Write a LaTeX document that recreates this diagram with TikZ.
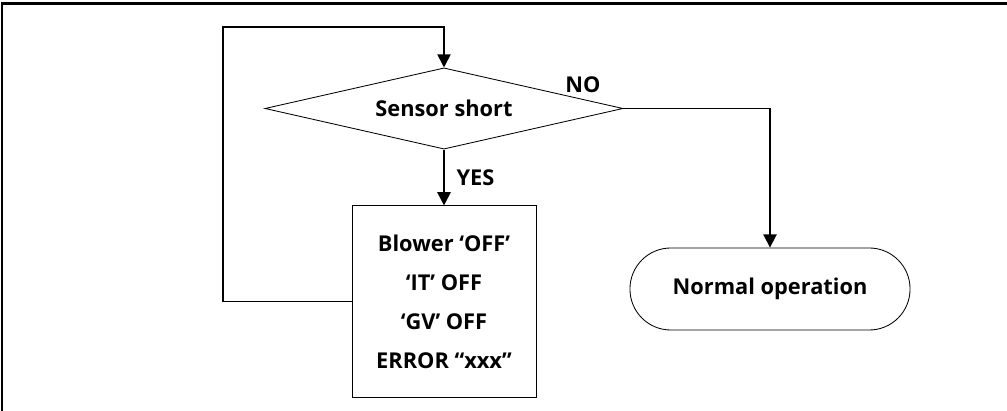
\documentclass[tikz,border=0pt]{standalone}
\usepackage{fontspec}
\setmainfont{Open Sans}
\usetikzlibrary{shapes.geometric,arrows.meta}
\begin{document}
\begin{tikzpicture}[x=.025cm,y=-.025cm,every node/.style={font=\bfseries\fontsize{15.5}{27.7}\selectfont},
  decision/.style={draw,diamond,aspect=4.4,line width=.6pt,minimum width=8.95cm,minimum height=2.03cm,inner sep=0pt},
  action/.style={draw,rectangle,line width=.6pt,align=center,minimum width=4.6cm,minimum height=4.78cm},
  terminal/.style={draw,rectangle,rounded corners=1.02cm,line width=.6pt,minimum width=7cm,minimum height=2.05cm},
  flow/.style={line width=1.3pt,-{Triangle[length=.33cm,width=.33cm]}}]
\useasboundingbox (0,0) rectangle (1007,411);
\draw[line width=1.8pt] (2,411) -- (2,3.5) -- (1007,3.5);
\node[decision] (sensor) at (444,108.5) {Sensor short};
\node[action] (stop) at (444,301.5) {Blower ‘OFF’\\‘IT’ OFF\\‘GV’ OFF\\ERROR “xxx”};
\node[terminal] (normal) at (770,289) {Normal operation};
\node (no) at (583,85) {NO};
\coordinate (loop) at (223,27);
\draw[flow] (sensor) -- (stop) node[midway,right=5pt] {YES};
\draw[flow] (sensor.east) -| (normal.north);
\draw[flow] (stop.west) -| (loop) -| (sensor.north);
\end{tikzpicture}
\end{document}
